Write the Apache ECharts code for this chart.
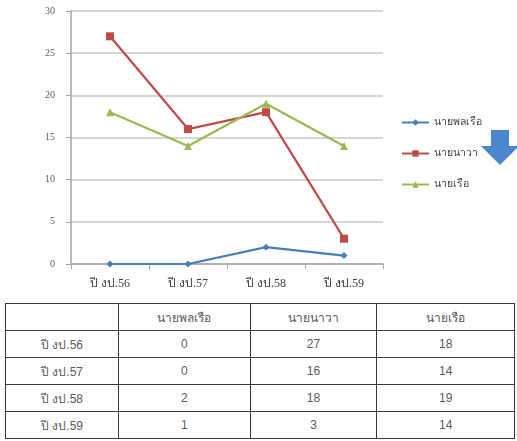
<!DOCTYPE html>
<html>
<head>
<meta charset="utf-8">
<script src="https://cdn.jsdelivr.net/npm/echarts@6/dist/echarts.min.js"></script>
<style>
  html, body { margin: 0; padding: 0; background: #fff; }
  #chart { width: 517px; height: 300px; }
  #tbl {
    position: absolute; left: 5px; top: 303px;
    border-collapse: collapse; width: 510px;
    font-family: 'Liberation Sans', 'Noto Sans', sans-serif; font-size: 12px; color: #595959;
  }
  #tbl td { border: 1px solid #3a3a3a; height: 26px; padding: 0; text-align: center; }
</style>
</head>
<body>
<div id="chart"></div>
<table id="tbl"></table>
<script>
const years = ['ปี งป.56', 'ปี งป.57', 'ปี งป.58', 'ปี งป.59']
const seriesNames = ['นายพลเรือ', 'นายนาวา', 'นายเรือ']
const nayPolRuea = [0, 0, 2, 1]
const nayNawa = [27, 16, 18, 3]
const nayRuea = [18, 14, 19, 14]
const yTicks = { min: 0, max: 30, interval: 5 }

const colors = ['#4a7ebb', '#be4b48', '#98b954']
const symbols = ['diamond', 'rect', 'triangle']
const allValues = [nayPolRuea, nayNawa, nayRuea]

const chart = echarts.init(document.getElementById('chart'))
const series = seriesNames.map((name, i) => {
  return {
    type: 'line',
    name: name,
    data: allValues[i],
    symbol: symbols[i],
    symbolSize: i === 0 ? 7 : 8,
    lineStyle: { width: 2.2, color: colors[i] },
    itemStyle: { color: colors[i] }
  }
})

chart.setOption({
  animation: false,
  color: colors,
  grid: { left: 71, right: 134, top: 11, bottom: 36 },
  legend: {
    orient: 'vertical',
    left: 396,
    top: 112,
    itemGap: 20,
    itemWidth: 27,
    itemHeight: 8,
    textStyle: { fontSize: 10.5, color: '#404040', fontFamily: 'Liberation Serif, serif' },
    data: seriesNames
  },
  xAxis: {
    type: 'category',
    data: years,
    axisLine: { lineStyle: { color: '#a6a6a6', width: 1.5 } },
    axisTick: { show: true, length: 5, lineStyle: { color: '#a6a6a6' } },
    axisLabel: { color: '#404040', fontSize: 12, margin: 14, fontFamily: 'Liberation Serif, serif' }
  },
  yAxis: {
    type: 'value',
    min: yTicks.min,
    max: yTicks.max,
    interval: yTicks.interval,
    axisLine: { show: true, lineStyle: { color: '#a6a6a6', width: 1.5 } },
    axisTick: { show: true, length: 5, lineStyle: { color: '#a6a6a6' } },
    axisLabel: { color: '#595959', fontSize: 10, margin: 16, fontFamily: 'Liberation Serif, serif' },
    splitLine: { lineStyle: { color: '#c8c8c8', width: 1.5 } }
  },
  graphic: [{
    type: 'polygon',
    shape: { points: [[491, 130], [509, 130], [509, 146], [519, 146], [500, 165], [481, 146], [491, 146]] },
    style: { fill: '#4a86d0' }
  }],
  series: series
})

// table built from the same arrays
const tbl = document.getElementById('tbl')
const widths = [113, 132, 127, 138]
let head = '<tr><td style="width:' + widths[0] + 'px"></td>'
seriesNames.forEach((n, i) => { head += '<td style="width:' + widths[i + 1] + 'px">' + n + '</td>' })
head += '</tr>'
let rows = ''
years.forEach((y, r) => {
  rows += '<tr><td>' + y + '</td>'
  allValues.forEach(v => { rows += '<td>' + v[r] + '</td>' })
  rows += '</tr>'
})
tbl.innerHTML = head + rows
</script>
</body>
</html>
